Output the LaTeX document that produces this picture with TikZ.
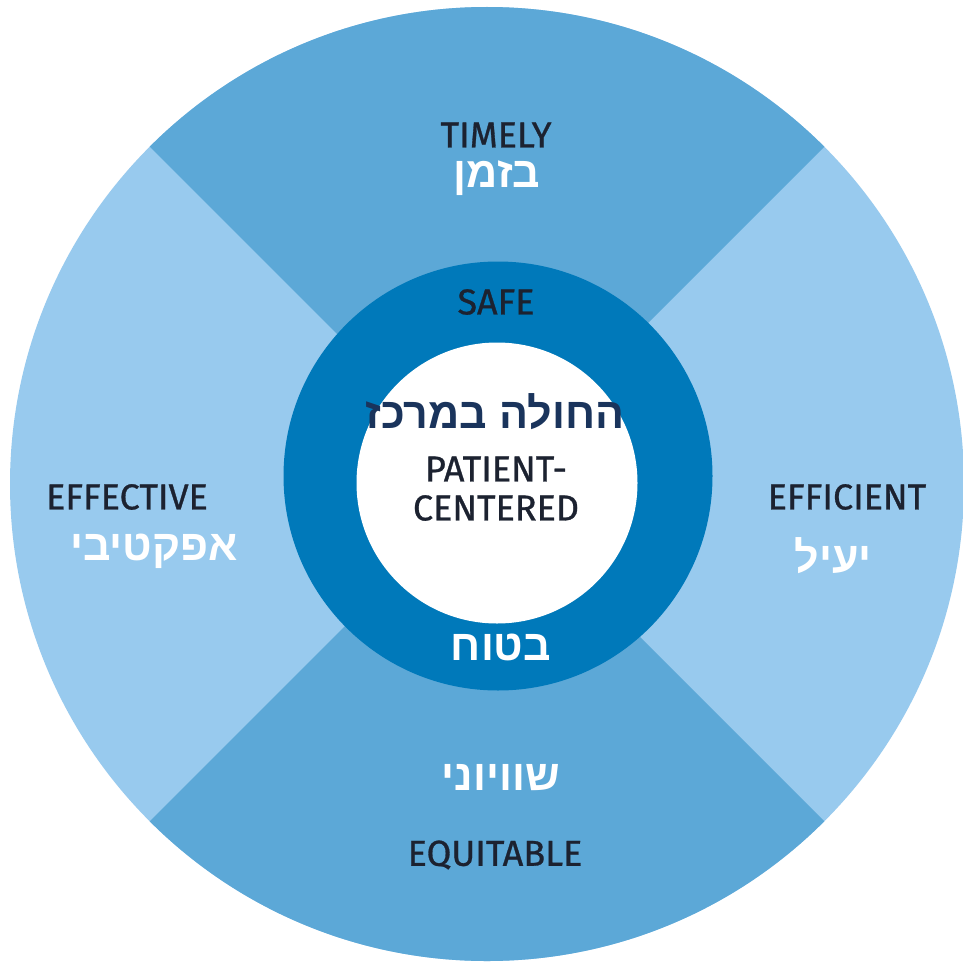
\documentclass[tikz,border=0pt]{standalone}
\usepackage{fontspec}
\setmainfont{Fira Sans}
\newfontfamily\enfont[FakeBold=0.8]{Fira Sans}
\newfontfamily\heb[Script=Hebrew]{Liberation Sans}
\TeXXeTstate=1
\definecolor{midblue}{RGB}{92,168,215}
\definecolor{lightblue}{RGB}{152,202,238}
\definecolor{ringblue}{RGB}{0,121,186}
\definecolor{navy}{RGB}{26,52,92}
\definecolor{txtdark}{RGB}{28,34,48}
\tikzset{
  entxt/.style={inner sep=0pt, text=txtdark, font=\enfont\fontsize{36}{40}\selectfont, align=center},
  hebw/.style={inner sep=0pt, text=white, font=\heb\bfseries\fontsize{43}{47}\selectfont},
  hebn/.style={inner sep=0pt, text=navy, font=\heb\bfseries\fontsize{43}{47}\selectfont}
}
\begin{document}
\begin{tikzpicture}[x=1pt,y=-1pt]
\useasboundingbox (0,0) rectangle (963,966);
\fill[white] (0,0) rectangle (963,966);
\begin{scope}
  \clip (0,0) rectangle (963,966);
  \fill[lightblue] (487,484) circle[radius=477pt];
  \begin{scope}
    \clip (487,484) circle[radius=477pt];
    \fill[midblue] (487,484) -- (-200,-203) -- (1174,-203) -- cycle;
    \fill[midblue] (487,484) -- (-200,1171) -- (1174,1171) -- cycle;
  \end{scope}
\end{scope}
\fill[ringblue] (498,476) circle[radius=214.5pt];
\fill[white] (497,483) circle[radius=140.5pt];

\node[entxt] (timely) at (496,135) {TIMELY};
\node[hebw] (bzman) at (497,178) {\beginR בזמן\endR};
\node[entxt] (safe) at (496,302) {SAFE};
\node[hebn] (center) at (495,412) {\beginR החולה במרכז\endR};
\node[entxt] (patient) at (496,469) {PATIENT-};
\node[entxt] (centered) at (496,508) {CENTERED};
\node[hebw] (batuach) at (501,647) {\beginR בטוח\endR};
\node[entxt] (effective) at (127,497) {EFFECTIVE};
\node[hebw] (effektivi) at (154,551) {\beginR אפקטיבי\endR};
\node[entxt] (efficient) at (847,497) {EFFICIENT};
\node[hebw] (yaiel) at (833,556) {\beginR יעיל\endR};
\node[hebw] (shivyoni) at (501,778) {\beginR שוויוני\endR};
\node[entxt] (equitable) at (495,855) {EQUITABLE};
\end{tikzpicture}
\end{document}
